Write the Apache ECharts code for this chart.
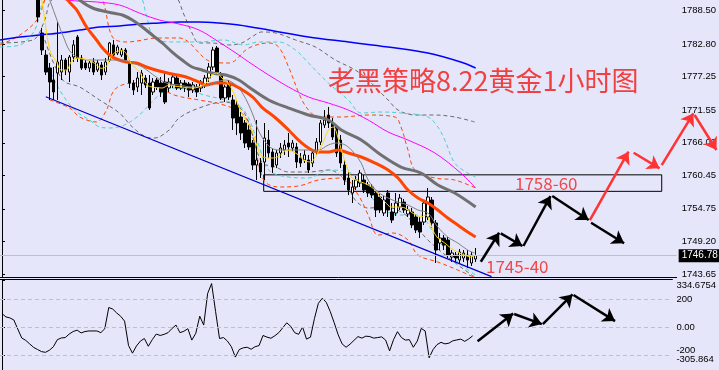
<!DOCTYPE html>
<html><head><meta charset="utf-8">
<script src="https://cdn.jsdelivr.net/npm/echarts@6/dist/echarts.min.js"></script>
<style>html,body{margin:0;padding:0;background:#e6e6fa}#c{width:719px;height:370px}</style>
</head><body><div id="c"></div>
<script>
// ---------- DATA ----------
const FIRST_BAR = 9;      // first visible bar index
const BAR_COUNT = 170;    // slots on the time axis (incl. empty future slots)
const openP = [1791.17,1784.70,1780.95,1778.74,1776.69,1777.88,1778.05,1780.10,1778.05,1780.61,1784.02,1780.44,1779.59,1778.74,1779.76,1778.40,1779.25,1778.05,1780.10,1782.67,1781.29,1780.95,1781.80,1779.76,1776.18,1775.50,1776.18,1777.03,1776.18,1774.65,1776.69,1776.18,1776.35,1775.33,1775.85,1777.03,1775.33,1776.18,1776.01,1774.99,1775.50,1775.33,1775.85,1777.03,1778.91,1782.14,1777.54,1773.63,1776.18,1773.29,1772.44,1770.39,1769.37,1768.18,1765.96,1762.21,1762.55,1762.72,1766.47,1764.43,1762.21,1764.26,1764.77,1765.96,1765.11,1765.28,1763.41,1763.07,1763.07,1762.55,1764.43,1766.13,1769.03,1770.73,1769.37,1768.69,1766.47,1762.21,1760.00,1757.44,1758.47,1759.15,1759.66,1758.81,1758.47,1757.44,1756.76,1754.04,1757.44,1754.21,1754.04,1755.06,1755.91,1753.87,1754.21,1753.36,1752.50,1752.50,1753.36,1756.25,1752.33,1748.93,1749.78,1749.44,1746.54,1746.88,1746.03,1746.37,1746.88,1745.52,1746.20];
const closeP = [1787.42,1781.80,1778.05,1776.35,1774.65,1779.76,1780.10,1778.40,1780.61,1782.67,1780.44,1778.74,1778.74,1779.59,1778.05,1779.59,1777.54,1779.76,1783.00,1780.95,1782.32,1781.80,1780.10,1776.18,1774.99,1777.03,1777.88,1775.85,1771.92,1776.35,1775.50,1774.65,1772.95,1776.35,1777.20,1775.33,1776.18,1775.33,1774.99,1775.85,1774.65,1776.35,1777.03,1778.91,1781.80,1778.05,1773.63,1775.50,1773.80,1770.22,1769.37,1767.67,1765.96,1765.28,1762.21,1763.07,1761.02,1766.81,1764.26,1761.87,1764.26,1765.11,1765.62,1765.28,1765.96,1762.72,1762.55,1763.92,1761.36,1764.26,1766.13,1769.37,1769.88,1769.37,1766.98,1764.26,1762.55,1759.66,1757.95,1758.47,1759.66,1760.85,1757.95,1757.44,1757.10,1754.55,1754.55,1756.25,1754.55,1752.84,1755.74,1756.59,1754.55,1754.55,1751.99,1751.14,1750.80,1755.74,1756.76,1752.33,1747.73,1749.78,1748.58,1746.88,1747.22,1746.37,1747.39,1747.22,1746.03,1746.88,1746.78];
const lowP = [1786.57,1780.95,1777.54,1773.29,1773.29,1773.29,1776.69,1777.54,1776.35,1779.76,1779.76,1778.40,1778.40,1778.05,1777.54,1778.05,1776.69,1777.54,1779.76,1780.44,1780.95,1780.61,1779.76,1775.33,1774.14,1774.65,1774.14,1775.33,1771.58,1774.14,1774.99,1773.80,1772.61,1774.65,1775.33,1774.99,1774.99,1774.65,1773.80,1774.48,1773.80,1774.65,1775.33,1776.35,1778.40,1777.54,1773.29,1772.95,1773.29,1768.18,1767.32,1766.47,1765.11,1764.77,1761.36,1759.66,1760.00,1759.66,1763.41,1760.85,1761.70,1763.41,1763.92,1763.58,1764.43,1761.70,1761.87,1762.55,1760.85,1761.87,1763.92,1765.62,1768.52,1768.52,1766.47,1763.58,1761.70,1758.81,1757.10,1755.74,1757.95,1758.47,1757.44,1756.76,1756.59,1753.36,1754.04,1753.53,1753.36,1752.33,1753.53,1754.55,1754.04,1753.36,1751.48,1750.63,1749.78,1751.99,1752.84,1751.48,1745.52,1747.73,1747.73,1746.37,1745.69,1745.69,1745.52,1745.69,1744.67,1745.01,1745.69];
const highP = [1792.02,1785.55,1781.80,1779.59,1778.91,1786.57,1780.95,1780.44,1780.95,1783.51,1784.36,1780.95,1780.10,1780.10,1780.44,1780.10,1779.76,1780.44,1783.17,1783.51,1782.67,1782.14,1782.14,1780.10,1776.69,1778.05,1778.40,1777.54,1777.54,1777.03,1777.03,1777.20,1777.88,1777.03,1777.88,1777.54,1776.69,1776.69,1776.35,1776.35,1776.01,1776.69,1777.54,1779.59,1782.32,1782.49,1778.05,1775.85,1776.69,1774.14,1773.29,1771.24,1769.88,1769.03,1766.47,1769.88,1763.41,1769.37,1768.18,1765.11,1764.77,1765.96,1766.47,1767.67,1766.47,1765.96,1764.26,1764.77,1763.92,1764.77,1766.81,1769.88,1771.58,1772.09,1770.22,1769.03,1767.32,1763.07,1761.02,1759.66,1760.34,1761.36,1760.51,1759.32,1758.98,1757.95,1757.27,1756.93,1757.95,1755.74,1757.44,1757.27,1756.42,1755.23,1754.89,1753.87,1753.36,1756.25,1758.30,1756.76,1752.84,1750.63,1750.29,1749.95,1747.73,1747.39,1747.91,1747.73,1747.73,1747.39,1748.08];

// CCI values per bar (index 0..119)
const cciValues = [95,72,65,50,-15,-78,-95,-120,-145,-160,-175,-180,-165,-140,-90,-78,-75,-50,-32,-22,-42,-32,-28,-28,-28,-40,-12,139,128,100,77,42,-132,-186,-135,-100,-82,-137,-90,-50,-60,-52,-40,-10,14,-40,-30,-12,-93,-45,77,14,239,309,112,-82,-75,-100,-140,-214,-160,-148,-144,-158,-140,-132,-60,-72,-80,-62,-40,-5,30,5,-40,-52,0,-86,-72,60,169,205,175,110,30,-55,-120,-144,-122,-95,-68,-79,-65,-68,-79,-75,-70,-93,-170,-90,-33,-75,-93,-90,-144,-100,-10,-28,-219,-160,-125,-109,-120,-115,-98,-92,-86,-102,-85,-63];

// moving averages [barIndex, price]
const maYellow = [[9,1793.0],[10,1790.32],[12,1781.80],[13.7,1779.81],[14.9,1778.40],[16.2,1778.40],[17.4,1779.81],[18.7,1780.39],[21.2,1780.22],[23.25,1779.54],[24.9,1778.69],[26.2,1778.96],[27.4,1780.66],[28.7,1781.51],[30.3,1781.68],[31.2,1781.24],[32.4,1779.54],[34.5,1778.05],[36.5,1775.84],[37.75,1775.50],[40.25,1775.33],[42,1775.84],[43.25,1775.67],[45.25,1775.50],[47.75,1775.33],[49.5,1775.50],[51.25,1776.18],[52.75,1777.54],[54,1777.88],[55.25,1777.03],[56.5,1776.35],[58.25,1774.48],[59.5,1772.09],[61.25,1769.88],[62.75,1768.18],[64,1765.62],[65,1763.92],[66.5,1763.41],[68.25,1763.41],[70,1763.92],[71.5,1764.77],[72.75,1764.60],[74.5,1763.92],[75.75,1763.07],[77.5,1762.72],[79,1763.92],[80.75,1766.13],[82,1768.18],[83.25,1768.69],[84,1767.84],[85.25,1764.77],[86.5,1762.21],[87.75,1760.17],[89,1759.66],[90.25,1759.32],[92,1758.81],[93.75,1757.95],[95,1756.76],[96.25,1755.91],[97.75,1755.06],[99.5,1755.06],[101.25,1754.89],[102.75,1754.21],[104,1753.70],[105.25,1753.36],[106.5,1753.70],[107.5,1752.50],[108.25,1751.14],[109.5,1749.78],[111.25,1748.93],[112.75,1748.08],[114.5,1747.39],[116.25,1746.88],[117.75,1746.54],[119,1746.88]];
const maGrayThin = [[11,1792.5],[12,1790.32],[15.75,1783.51],[17.5,1781.29],[21.25,1780.10],[23.75,1780.10],[27,1780.10],[30.25,1780.10],[32.75,1779.59],[35.25,1778.91],[38.75,1777.20],[41.25,1776.18],[44.5,1775.84],[47.75,1775.50],[51.25,1775.67],[53.75,1776.35],[56.25,1776.69],[58.75,1775.84],[60.25,1774.65],[62,1772.44],[63.25,1770.39],[64.5,1768.01],[67,1765.45],[69.5,1764.77],[72,1764.77],[74.5,1764.77],[77,1764.77],[79.5,1764.77],[82,1765.62],[84,1765.96],[86.25,1765.62],[88.25,1764.43],[90.25,1762.55],[92,1759.66],[94.5,1757.61],[97,1756.59],[99.5,1755.91],[102,1755.40],[104.5,1754.55],[107,1754.04],[109.5,1751.65],[112,1749.95],[114.5,1748.93],[117,1747.73],[118.75,1747.22]];
const maOrange = [[15.5,1792.0],[16.5,1790.32],[18.75,1788.62],[21.25,1785.72],[23.75,1783.51],[25.25,1782.14],[27,1780.95],[28.75,1780.27],[31.25,1779.76],[33.75,1779.59],[36.25,1778.91],[39.5,1778.23],[42.75,1777.71],[46.25,1777.20],[49.5,1776.35],[51.25,1775.84],[53.75,1776.18],[56.25,1776.18],[58.75,1775.67],[61.25,1774.65],[63.25,1773.63],[65.25,1772.09],[68.75,1770.22],[72,1768.18],[74.5,1766.47],[77,1765.11],[79.5,1764.43],[82,1764.43],[84.5,1764.77],[87,1764.26],[90.25,1763.58],[93.75,1762.55],[97,1761.36],[99.5,1760.00],[102,1757.95],[104.5,1756.59],[107,1755.74],[109.5,1754.55],[112,1753.19],[114.5,1751.99],[117,1750.80],[119,1749.95]];
const maDarkGray = [[17,1792.0],[19.5,1790.32],[22.75,1788.96],[27.75,1788.11],[30.25,1787.77],[32.75,1786.91],[35.25,1785.72],[37.75,1784.36],[40.25,1783.00],[42.75,1781.46],[45.25,1780.10],[47.75,1778.91],[50.25,1778.40],[52.75,1777.88],[56.25,1777.54],[59.5,1776.69],[62,1775.50],[67,1773.29],[72,1771.92],[77,1770.73],[82,1769.88],[85.25,1768.18],[90.25,1766.47],[95.25,1763.92],[100.25,1761.87],[105.25,1760.85],[109.5,1758.81],[113.75,1757.44],[119,1755.06]];
const maMagenta = [[13,1791.0],[16.25,1790.32],[23.75,1789.98],[29.5,1789.47],[34.5,1788.11],[39.5,1786.91],[44.5,1786.23],[49.5,1785.21],[54.5,1783.17],[59.5,1780.95],[62,1779.76],[67,1777.54],[72,1775.50],[77,1773.80],[82,1772.77],[87,1771.58],[92,1769.88],[97,1767.84],[102,1766.47],[108.75,1764.26],[115.25,1760.85],[119,1758.30]];
const maBlue = [[-0.5,1783.51],[4.5,1784.02],[9.5,1784.36],[14.5,1784.70],[19.5,1785.21],[24.5,1785.72],[29.5,1785.89],[34.5,1786.23],[39.5,1786.40],[44.5,1786.57],[49.5,1786.57],[54.5,1786.40],[59.5,1786.06],[67,1785.21],[77,1784.02],[87,1783.17],[97,1782.32],[107,1781.29],[115.25,1779.76],[119,1778.74]];

// envelope bands (dashed)
const bandOrangeUp = [[-0.5,1782.66],[4.5,1784.36],[8.75,1786.91],[10.75,1790.32],[13.25,1795.43],[19.5,1797.13],[25.25,1790.32],[27.75,1784.02],[31.25,1783.17],[39.5,1783.85],[44.5,1783.85],[52.75,1779.76],[57,1779.59],[62,1782.14],[67,1783.00],[69.5,1782.31],[72,1778.91],[75,1773.80],[77,1771.58],[79.5,1770.39],[85.25,1770.39],[92,1770.73],[98.75,1770.39],[100.25,1768.69],[102,1764.77],[103.75,1761.36],[108.75,1760.00],[113.75,1759.66],[119,1758.30]];
const bandOrangeLow = [[12,1773.29],[17,1771.92],[19.5,1770.39],[23.75,1769.54],[26.25,1771.58],[27.75,1774.48],[29.5,1775.67],[33.25,1776.18],[38.25,1775.84],[43.25,1774.14],[49.5,1773.29],[55.75,1772.44],[60.75,1770.73],[63.25,1766.47],[65.75,1759.66],[69.5,1758.47],[74.5,1758.64],[79.5,1759.66],[85.75,1760.00],[89.5,1757.10],[92,1753.70],[94.5,1750.29],[98.25,1750.63],[102,1749.44],[104.5,1746.88],[109.5,1745.69],[114.5,1744.33],[119,1742.96]];
const bandCyanUp = [[-0.5,1782.31],[4.5,1782.66],[8.25,1785.21],[10.75,1790.32],[22,1797.13],[34.5,1791.17],[36.25,1787.77],[38.25,1783.85],[43.25,1783.17],[49.5,1783.17],[55.75,1783.51],[60.75,1782.66],[64.5,1783.17],[69.5,1783.17],[73.75,1781.80],[77,1779.59],[82,1776.18],[87,1773.29],[90.25,1771.07],[95.25,1771.24],[100.25,1771.07],[107,1770.39],[109.5,1768.69],[111.25,1766.47],[113.75,1762.55],[117,1760.85],[119,1760.17]];
const bandCyanLow = [[10.75,1780.10],[14.5,1774.99],[18.25,1771.58],[22,1769.88],[24.5,1768.69],[27,1768.52],[30.75,1769.03],[34.5,1770.73],[39.5,1774.14],[43.25,1775.33],[47,1774.99],[50.75,1774.14],[55.75,1773.29],[60.75,1771.58],[64.5,1765.62],[67,1761.36],[72,1760.17],[77,1760.00],[82,1761.36],[87,1761.02],[90.75,1758.81],[94.5,1755.40],[99.5,1753.70],[104.5,1753.70],[109.5,1749.44],[114.5,1745.69],[119,1743.48]];
const bandGrayUp = [[-0.5,1783.00],[7.75,1783.51],[10.75,1786.91],[12.5,1790.32],[27,1797.13],[43.25,1791.17],[45.75,1787.77],[47.75,1784.70],[49.5,1783.00],[52.75,1783.00],[57,1782.66],[60.25,1783.00],[62.75,1784.02],[65.25,1784.87],[68.75,1784.70],[73.75,1783.51],[78.75,1782.31],[83.75,1780.10],[88.75,1778.40],[92,1776.69],[94.5,1774.99],[97,1773.29],[99.5,1771.58],[103.75,1770.73],[108.75,1770.73],[113.75,1770.39],[118.75,1769.54]];
const bandGrayLow = [[10.75,1783.51],[15.25,1776.69],[19.5,1775.50],[24.5,1773.29],[29.5,1771.07],[32.75,1768.69],[36.25,1766.98],[38.25,1766.81],[42,1768.18],[44.5,1770.22],[49.5,1771.92],[55.75,1772.95],[60.75,1771.24],[65.25,1762.72],[68.75,1761.87],[72,1761.02],[77,1761.02],[82,1761.36],[85.75,1760.00],[88.75,1756.25],[92,1754.89],[96.25,1755.06],[100.75,1754.04],[103.75,1751.99],[107,1749.44],[112,1746.54],[115.25,1744.84],[118.75,1743.14]];

// channel trend line and resistance zone
const trendLine = [[11,1773.85],[123,1743.20]];
const zoneBox = {fromBar:65.75, toBar:165.75, top:1760.54, bottom:1757.73};
const lastPrice = 1746.78;

// forecast arrows [[bar, price],[bar, price]]
const blackArrows = [[[120.3,1745.74],[124.9,1750.68]],[[125.3,1750.57],[130.75,1748.42]],[[131,1748.42],[137.8,1756.93]],[[138.25,1756.93],[147.4,1752.84]],[[148,1752.39],[156.3,1748.88]]];
const redArrows = [[[147.7,1752.84],[157.4,1764.48]],[[158.7,1764.31],[165.2,1761.65]],[[165.75,1762.21],[173.7,1771.02]],[[174,1770.73],[179.5,1764.77]]];
const cciArrows = [[[120.25,-101],[129.25,96]],[[129.5,93],[136.5,21]],[[136.75,21],[144.25,232]],[[144.5,228],[155,42]]];

// axis labels
const priceTicks = [1788.50,1782.80,1777.25,1771.55,1766.00,1760.45,1754.75,1749.20,1743.65];
const cciTicks = [334.6754,200,0,-200];
const cciTickText = {'334.6754':'334.6754','200':'200','0':'0.00','-200':'-200'};
const priceMin = 1743.14, priceMax = 1790.32;
const cciMin = -305.864, cciMax = 334.6754;
const cciMinText = '-305.864';
const cciLevels = [200, 0, -200];

const titleText = '老黑策略8.22黄金1小时图';
const zoneText = '1758-60';
const supportText = '1745-40';

// ---------- CHART ----------
const cats = Array.from({length: BAR_COUNT}, (_, i) => String(i));
const candleData = [];
for (let i = 0; i < FIRST_BAR + openP.length; i++) {
  if (i < FIRST_BAR) candleData.push('-');
  else { const k = i - FIRST_BAR; candleData.push([openP[k], closeP[k], lowP[k], highP[k]]); }
}
const LF = 'Liberation Sans';
function line(data, color, width, type, z) {
  return {type:'line', xAxisIndex:1, yAxisIndex:0, data, symbol:'none', showSymbol:false,
    smooth:0.35, clip:true, silent:true, z, lineStyle:{color, width, type}};
}
const dash = [4,3];
const lblStyle = {fontFamily:LF, fontSize:9.5, color:'#000'};
const chart = echarts.init(document.getElementById('c'));
chart.setOption({
  animation:false,
  backgroundColor:'#e6e6fa',
  grid:[
    {left:0, right:40, top:0, height:277},
    {left:0, right:40, top:280, height:94}
  ],
  xAxis:[
    {type:'category', gridIndex:0, data:cats, boundaryGap:true, axisLine:{onZero:false, lineStyle:{color:'#000', width:1}}, axisTick:{show:false}, axisLabel:{show:false}, splitLine:{show:false}},
    {type:'value', gridIndex:0, min:-0.5, max:BAR_COUNT-0.5, show:false},
    {type:'category', gridIndex:1, data:cats, position:'top', offset:1, boundaryGap:true, axisLine:{onZero:false, lineStyle:{color:'#000', width:1}}, axisTick:{show:false}, axisLabel:{show:false}},
    {type:'value', gridIndex:1, min:-0.5, max:BAR_COUNT-0.5, show:false}
  ],
  yAxis:[
    {type:'value', gridIndex:0, position:'right', min:priceMin, max:priceMax,
     axisLine:{show:true, lineStyle:{color:'#000'}},
     axisTick:{show:true, length:3, customValues:priceTicks, lineStyle:{color:'#000'}},
     axisLabel:{customValues:priceTicks, margin:5, color:'#000', fontFamily:LF, fontSize:9.5, showMinLabel:true, showMaxLabel:true, formatter:v => Number(v).toFixed(2)},
     splitLine:{show:false}},
    {type:'value', gridIndex:1, position:'right', min:cciMin, max:cciMax,
     axisLine:{show:true, lineStyle:{color:'#000'}},
     axisTick:{show:true, length:3, customValues:cciTicks, lineStyle:{color:'#000'}},
     axisLabel:{customValues:cciTicks, margin:4, color:'#000', fontFamily:LF, fontSize:9.5, showMinLabel:true, showMaxLabel:true,
       formatter:v => { const t = cciTickText[String(v)] || String(v);
         if (v >= cciMax - 1e-6) return '{top|' + t + '}';
         if (v === cciLevels[cciLevels.length - 1]) return '{low|' + t + '}\n{low|' + cciMinText + '}';
         return t; },
       rich:{top:Object.assign({padding:[10,0,0,0]}, lblStyle), low:Object.assign({lineHeight:9}, lblStyle)}},
     splitLine:{show:false}}
  ],
  series:[
    line(bandGrayUp, '#696969', 1, dash, 2),
    line(bandGrayLow, '#696969', 1, dash, 2),
    line(bandCyanUp, '#48d1cc', 1, dash, 2),
    line(bandCyanLow, '#48d1cc', 1, dash, 2),
    line(bandOrangeUp, '#ff4500', 1, dash, 2),
    line(bandOrangeLow, '#ff4500', 1, dash, 2),
    {type:'candlestick', xAxisIndex:0, yAxisIndex:0, data:candleData, barWidth:3, clip:true, z:3,
     itemStyle:{color:'#ffffff', color0:'#000000', borderColor:'#000000', borderColor0:'#000000', borderWidth:1},
     markLine:{silent:true, symbol:'none', animation:false,
       lineStyle:{color:'#c0c0c0', type:'solid', width:1},
       label:{show:true, position:'end', distance:2, formatter:lastPrice.toFixed(2), color:'#fff', backgroundColor:'#000', padding:[2,3,1,3], fontFamily:LF, fontSize:10},
       data:[{yAxis:lastPrice}]}},
    line(maBlue, '#0000ff', 1.5, 'solid', 4),
    line(maMagenta, '#ff00ff', 1, 'solid', 4),
    line(maDarkGray, '#707070', 3, 'solid', 4),
    line(maOrange, '#ff4500', 3, 'solid', 4),
    line(maGrayThin, '#808080', 1, 'solid', 5),
    line(maYellow, '#ffd700', 1, 'solid', 5),
    {type:'line', xAxisIndex:1, yAxisIndex:0, data:trendLine, symbol:'none', silent:true, z:5,
     lineStyle:{color:'#0000cd', width:1.2},
     markArea:{silent:true, itemStyle:{color:'rgba(0,0,0,0)', borderColor:'#000', borderWidth:1},
       data:[[{coord:[zoneBox.fromBar, zoneBox.top]},{coord:[zoneBox.toBar, zoneBox.bottom]}]]}},
    {type:'lines', coordinateSystem:'cartesian2d', xAxisIndex:1, yAxisIndex:0, clip:false, z:10, silent:true,
     symbol:['none','arrow'], symbolSize:12, lineStyle:{color:'#000', width:2.5, opacity:1},
     data:blackArrows.map(c => ({coords:c}))},
    {type:'lines', coordinateSystem:'cartesian2d', xAxisIndex:1, yAxisIndex:0, clip:false, z:10, silent:true,
     symbol:['none','arrow'], symbolSize:12, lineStyle:{color:'#ff3333', width:2.5, opacity:1},
     data:redArrows.map(c => ({coords:c}))},
    {type:'line', xAxisIndex:2, yAxisIndex:1, data:cciValues, symbol:'none', silent:true, z:4,
     lineStyle:{color:'#000', width:1},
     markLine:{silent:true, symbol:'none', animation:false, label:{show:false},
       lineStyle:{color:'#c0c0c0', type:dash, width:1},
       data:cciLevels.map(v => ({yAxis:v}))}},
    {type:'lines', coordinateSystem:'cartesian2d', xAxisIndex:3, yAxisIndex:1, clip:false, z:10, silent:true,
     symbol:['none','arrow'], symbolSize:12, lineStyle:{color:'#000', width:2.5, opacity:1},
     data:cciArrows.map(c => ({coords:c}))}
  ],
  graphic:[
    {type:'text', x:328, y:81, z:20, silent:true, style:{text:titleText, fontSize:27, fontFamily:'Noto Sans CJK SC', fill:'#f04040', verticalAlign:'middle'}},
    {type:'text', x:515, y:184, z:20, silent:true, style:{text:zoneText, fontSize:17, fontFamily:'Noto Sans CJK SC', fill:'#f04848', verticalAlign:'middle'}},
    {type:'text', x:486, y:267, z:20, silent:true, style:{text:supportText, fontSize:17, fontFamily:'Noto Sans CJK SC', fill:'#f04848', verticalAlign:'middle'}}
  ]
});
</script>
</body></html>
